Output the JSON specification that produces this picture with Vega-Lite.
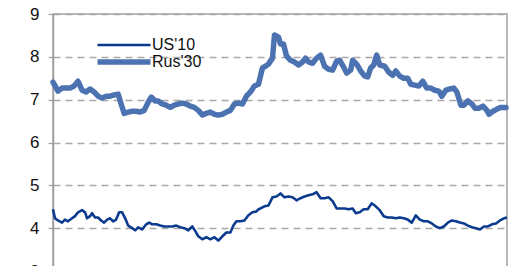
{
  "$schema": "https://vega.github.io/schema/vega-lite/v6.json",
  "width": 454,
  "height": 257,
  "autosize": {"type": "none"},
  "padding": {"left": 53, "top": 14, "right": 11, "bottom": 0},
  "background": "white",
  "config": {
    "font": "Liberation Sans",
    "view": {"stroke": "#a0a0a0", "strokeWidth": 1.5}
  },
  "datasets": {
    "rus": [
      {"t":0,"v":7.41},{"t":5,"v":7.20},{"t":9,"v":7.27},{"t":13,"v":7.27},{"t":17,"v":7.27},{"t":21,"v":7.32},{"t":25,"v":7.43},{"t":29,"v":7.22},{"t":33,"v":7.18},{"t":37,"v":7.25},{"t":41,"v":7.18},{"t":45,"v":7.08},{"t":49,"v":7.04},{"t":53,"v":7.08},{"t":57,"v":7.08},{"t":61,"v":7.11},{"t":65,"v":7.13},{"t":68,"v":6.90},{"t":71,"v":6.68},{"t":75,"v":6.71},{"t":79,"v":6.73},{"t":83,"v":6.73},{"t":87,"v":6.71},{"t":91,"v":6.75},{"t":95,"v":6.94},{"t":98,"v":7.06},{"t":102,"v":6.97},{"t":105,"v":6.97},{"t":109,"v":6.90},{"t":113,"v":6.87},{"t":117,"v":6.82},{"t":121,"v":6.87},{"t":125,"v":6.90},{"t":129,"v":6.92},{"t":133,"v":6.90},{"t":137,"v":6.85},{"t":141,"v":6.82},{"t":145,"v":6.75},{"t":149,"v":6.64},{"t":153,"v":6.68},{"t":157,"v":6.71},{"t":161,"v":6.66},{"t":165,"v":6.64},{"t":169,"v":6.66},{"t":173,"v":6.71},{"t":177,"v":6.75},{"t":181,"v":6.90},{"t":185,"v":6.92},{"t":189,"v":6.90},{"t":193,"v":7.08},{"t":197,"v":7.18},{"t":201,"v":7.32},{"t":205,"v":7.36},{"t":209,"v":7.74},{"t":212,"v":7.78},{"t":215,"v":7.83},{"t":219,"v":7.97},{"t":221,"v":8.51},{"t":225,"v":8.46},{"t":227,"v":8.30},{"t":230,"v":8.30},{"t":233,"v":8.02},{"t":237,"v":7.92},{"t":241,"v":7.88},{"t":245,"v":7.81},{"t":249,"v":7.88},{"t":252,"v":7.97},{"t":255,"v":7.88},{"t":259,"v":7.85},{"t":263,"v":7.97},{"t":267,"v":8.04},{"t":271,"v":7.78},{"t":275,"v":7.71},{"t":279,"v":7.69},{"t":283,"v":7.90},{"t":286,"v":7.92},{"t":290,"v":7.76},{"t":293,"v":7.62},{"t":297,"v":7.69},{"t":299,"v":7.92},{"t":303,"v":7.83},{"t":307,"v":7.67},{"t":311,"v":7.55},{"t":314,"v":7.53},{"t":317,"v":7.74},{"t":320,"v":7.81},{"t":323,"v":8.04},{"t":326,"v":7.81},{"t":331,"v":7.78},{"t":335,"v":7.64},{"t":339,"v":7.57},{"t":342,"v":7.67},{"t":346,"v":7.55},{"t":350,"v":7.50},{"t":354,"v":7.50},{"t":357,"v":7.36},{"t":361,"v":7.34},{"t":365,"v":7.32},{"t":369,"v":7.43},{"t":373,"v":7.27},{"t":377,"v":7.27},{"t":381,"v":7.22},{"t":385,"v":7.20},{"t":388,"v":7.08},{"t":392,"v":7.22},{"t":396,"v":7.25},{"t":400,"v":7.27},{"t":403,"v":7.18},{"t":407,"v":6.87},{"t":410,"v":6.87},{"t":414,"v":6.97},{"t":418,"v":6.90},{"t":421,"v":6.80},{"t":425,"v":6.80},{"t":429,"v":6.85},{"t":433,"v":6.75},{"t":435,"v":6.66},{"t":439,"v":6.73},{"t":443,"v":6.78},{"t":447,"v":6.82},{"t":452,"v":6.82}
    ],
    "us": [
      {"t":0,"v":4.44},{"t":2,"v":4.23},{"t":5,"v":4.18},{"t":9,"v":4.13},{"t":12,"v":4.20},{"t":15,"v":4.16},{"t":19,"v":4.23},{"t":22,"v":4.28},{"t":25,"v":4.37},{"t":29,"v":4.42},{"t":32,"v":4.37},{"t":34,"v":4.23},{"t":37,"v":4.28},{"t":39,"v":4.35},{"t":42,"v":4.25},{"t":45,"v":4.25},{"t":48,"v":4.18},{"t":51,"v":4.13},{"t":54,"v":4.20},{"t":57,"v":4.23},{"t":60,"v":4.16},{"t":63,"v":4.20},{"t":66,"v":4.37},{"t":69,"v":4.37},{"t":72,"v":4.23},{"t":75,"v":4.06},{"t":79,"v":4.00},{"t":82,"v":3.95},{"t":85,"v":4.02},{"t":89,"v":3.97},{"t":93,"v":4.09},{"t":96,"v":4.13},{"t":99,"v":4.09},{"t":103,"v":4.09},{"t":107,"v":4.06},{"t":111,"v":4.04},{"t":115,"v":4.04},{"t":119,"v":4.04},{"t":123,"v":4.06},{"t":127,"v":4.02},{"t":131,"v":4.00},{"t":135,"v":3.95},{"t":139,"v":4.04},{"t":142,"v":3.93},{"t":145,"v":3.81},{"t":149,"v":3.74},{"t":153,"v":3.79},{"t":157,"v":3.74},{"t":161,"v":3.79},{"t":165,"v":3.71},{"t":169,"v":3.81},{"t":173,"v":3.90},{"t":177,"v":3.90},{"t":180,"v":4.06},{"t":183,"v":4.16},{"t":187,"v":4.16},{"t":191,"v":4.18},{"t":195,"v":4.30},{"t":199,"v":4.37},{"t":203,"v":4.39},{"t":205,"v":4.44},{"t":207,"v":4.46},{"t":211,"v":4.51},{"t":215,"v":4.53},{"t":219,"v":4.72},{"t":223,"v":4.74},{"t":227,"v":4.81},{"t":231,"v":4.72},{"t":235,"v":4.74},{"t":239,"v":4.72},{"t":243,"v":4.65},{"t":247,"v":4.70},{"t":251,"v":4.74},{"t":255,"v":4.77},{"t":259,"v":4.79},{"t":263,"v":4.84},{"t":267,"v":4.70},{"t":271,"v":4.70},{"t":275,"v":4.72},{"t":279,"v":4.63},{"t":283,"v":4.46},{"t":287,"v":4.46},{"t":291,"v":4.46},{"t":295,"v":4.44},{"t":299,"v":4.46},{"t":302,"v":4.35},{"t":306,"v":4.37},{"t":310,"v":4.44},{"t":314,"v":4.44},{"t":318,"v":4.58},{"t":322,"v":4.51},{"t":326,"v":4.42},{"t":330,"v":4.28},{"t":334,"v":4.25},{"t":338,"v":4.25},{"t":342,"v":4.23},{"t":346,"v":4.25},{"t":350,"v":4.23},{"t":354,"v":4.20},{"t":358,"v":4.13},{"t":362,"v":4.30},{"t":366,"v":4.20},{"t":370,"v":4.16},{"t":374,"v":4.16},{"t":378,"v":4.11},{"t":382,"v":4.04},{"t":386,"v":4.00},{"t":390,"v":4.04},{"t":394,"v":4.13},{"t":398,"v":4.18},{"t":402,"v":4.16},{"t":406,"v":4.13},{"t":410,"v":4.11},{"t":414,"v":4.06},{"t":418,"v":4.02},{"t":422,"v":4.00},{"t":426,"v":3.97},{"t":430,"v":4.04},{"t":434,"v":4.04},{"t":438,"v":4.09},{"t":442,"v":4.11},{"t":446,"v":4.18},{"t":450,"v":4.23},{"t":453,"v":4.25}
    ]
  },
  "data": {"name": "us"},
  "transform": [
    {"calculate": "'US\\'10'", "as": "s"}
  ],
  "layer": [
    {
      "data": {"name": "rus"},
      "transform": [{"calculate": "'Rus\\'30'", "as": "s"}],
      "mark": {"type": "line", "strokeCap": "round", "strokeJoin": "round", "clip": false},
      "encoding": {
        "x": {"field": "t", "type": "quantitative", "scale": {"domain": [0, 453], "nice": false, "zero": false}, "axis": null},
        "y": {"field": "v", "type": "quantitative", "scale": {"domain": [3, 9], "nice": false, "zero": false},
          "axis": {"values": [3,4,5,6,7,8,9], "title": null, "grid": true, "gridDash": [7,5], "gridColor": "#a8a8a8", "gridWidth": 1.5,
            "domainColor": "#a0a0a0", "domainWidth": 1.5, "tickColor": "#a0a0a0", "tickSize": 5, "tickWidth": 1.2,
            "labelFontSize": 17, "labelColor": "#111111", "labelPadding": 9, "labelFont": "Liberation Sans"}},
        "color": {"field": "s", "type": "nominal", "scale": {"domain": ["US'10", "Rus'30"], "range": ["#0b3b8f", "#4d72b2"]},
          "legend": {"orient": "none", "legendX": 63, "legendY": 23, "padding": 0, "title": null, "symbolType": "M-5.3,0H5.3", "symbolSize": 100,
            "labelFontSize": 16, "labelColor": "#111111", "labelOffset": 20, "rowPadding": -2, "labelFont": "Liberation Sans"}},
        "strokeWidth": {"field": "s", "type": "nominal", "scale": {"domain": ["US'10", "Rus'30"], "range": [2.6, 5.5]},
          "legend": {"orient": "none", "legendX": 63, "legendY": 23, "padding": 0, "title": null, "symbolType": "M-5.3,0H5.3", "symbolSize": 100,
            "labelFontSize": 16, "labelColor": "#111111", "labelOffset": 20, "rowPadding": -2, "labelFont": "Liberation Sans"}}
      }
    },
    {
      "mark": {"type": "line", "strokeJoin": "round"},
      "encoding": {
        "x": {"field": "t", "type": "quantitative"},
        "y": {"field": "v", "type": "quantitative"},
        "color": {"field": "s", "type": "nominal"},
        "strokeWidth": {"field": "s", "type": "nominal"}
      }
    }
  ]
}
